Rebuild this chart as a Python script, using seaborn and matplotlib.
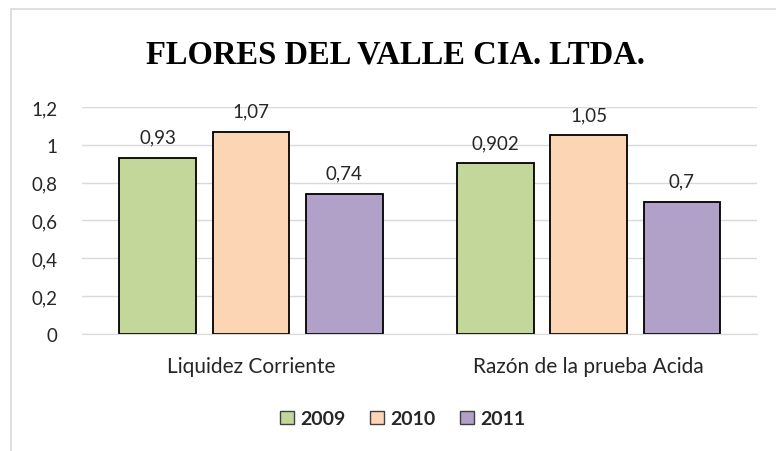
import pandas as pd
import seaborn as sns
import matplotlib.pyplot as plt
from matplotlib.ticker import FuncFormatter
from matplotlib.patches import Rectangle

# data
categories = ["Liquidez Corriente", "Razón de la prueba Acida"]
years = ["2009", "2010", "2011"]
v2009 = [0.93, 0.902]
v2010 = [1.07, 1.05]
v2011 = [0.74, 0.7]
labels_2009 = ["0,93", "0,902"]
labels_2010 = ["1,07", "1,05"]
labels_2011 = ["0,74", "0,7"]

colors = ["#C4D79B", "#FCD5B4", "#B1A0C7"]

df = pd.DataFrame({
    "Indicador": categories * 3,
    "Año": [years[0]] * 2 + [years[1]] * 2 + [years[2]] * 2,
    "Valor": v2009 + v2010 + v2011,
})

sns.set_style("white")
plt.rcParams['font.family'] = ['Lato', 'DejaVu Sans']

fig = plt.figure(figsize=(7.76, 4.52), dpi=100)
ax = fig.add_axes([0.106, 0.259, 0.87, 0.502])

sns.barplot(data=df, x="Indicador", y="Valor", hue="Año", palette=colors,
            width=0.83, gap=0.177, edgecolor="black", linewidth=1.3,
            saturation=1, ax=ax, legend=False)

all_labels = [labels_2009, labels_2010, labels_2011]
for cont, labs in zip(ax.containers, all_labels):
    ax.bar_label(cont, labels=labs, padding=9, fontsize=13.5, color="#262626")

ax.set_ylim(0, 1.2)
ax.set_xlim(-0.5, 1.5)
ax.set_yticks([0, 0.2, 0.4, 0.6, 0.8, 1.0, 1.2])
ax.yaxis.set_major_formatter(FuncFormatter(lambda v, p: f"{v:g}".replace(".", ",")))
ax.grid(axis="y", color="#D9D9D9", linewidth=1)
ax.set_axisbelow(True)
for s in ["top", "right", "left"]:
    ax.spines[s].set_visible(False)
ax.spines["bottom"].set_color("#D9D9D9")
ax.tick_params(axis="y", length=0, labelsize=13.5, colors="#262626", pad=18)
ax.tick_params(axis="x", length=0, labelsize=15, colors="#262626", pad=16)
ax.set_xlabel("")
ax.set_ylabel("")

fig.text(0.509, 0.878, "FLORES DEL VALLE CIA. LTDA.", ha="center", va="center",
         fontsize=23.5, fontweight="bold", family="Liberation Serif", color="black")

handles = [Rectangle((0, 0), 1, 1, facecolor=c, edgecolor="#404040", linewidth=1) for c in colors]
fig.legend(handles, years, loc="center", bbox_to_anchor=(0.519, 0.071), ncol=3, frameon=False,
           prop={"weight": "bold", "size": 14}, handlelength=0.7, handleheight=0.7,
           handletextpad=0.3, columnspacing=1.3)

# outer chart-area border (left and top edges visible only)
fig.add_artist(Rectangle((0.0142, -0.1), 1.1, 1.078, transform=fig.transFigure,
                         fill=False, edgecolor="#D9D9D9", linewidth=1.2))

plt.savefig("out.png", dpi=100)
